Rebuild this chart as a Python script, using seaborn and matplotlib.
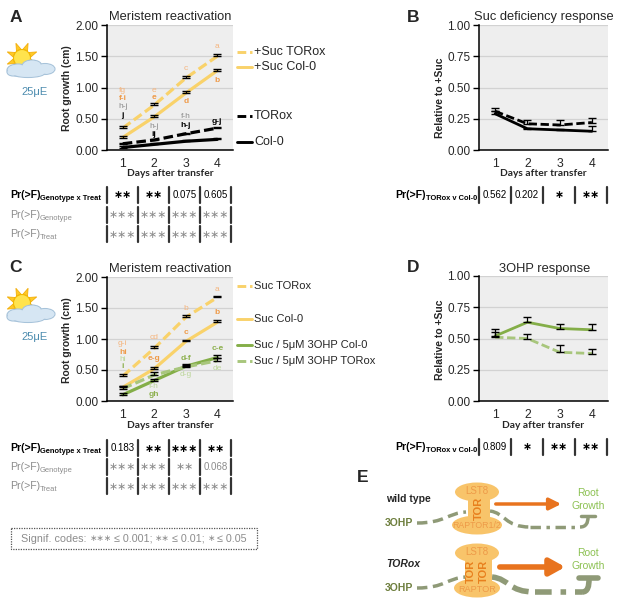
import numpy as np
import pandas as pd
import matplotlib
matplotlib.use('Agg')
import matplotlib.pyplot as plt
import seaborn as sns
from matplotlib.patches import Ellipse, Rectangle, Polygon, PathPatch, FancyArrowPatch
from matplotlib.path import Path

# --- dane ---
days = [1, 2, 3, 4]

# Panel A: przyrost korzenia (cm)
a_suc_torox = [0.35, 0.72, 1.15, 1.50]
a_suc_torox_err = [0.03, 0.03, 0.03, 0.04]
a_suc_col = [0.20, 0.53, 0.91, 1.27]
a_suc_col_err = [0.03, 0.03, 0.03, 0.03]
a_torox = [0.10, 0.16, 0.26, 0.35]
a_torox_err = [0.02, 0.02, 0.02, 0.02]
a_col = [0.04, 0.09, 0.14, 0.17]
a_col_err = [0.03, 0.02, 0.02, 0.02]

# Panel B: wzgledem +Suc
b_col = [0.29, 0.17, 0.16, 0.15]
b_col_err = [0.02, 0.01, 0.01, 0.04]
b_torox = [0.31, 0.21, 0.20, 0.22]
b_torox_err = [0.03, 0.03, 0.04, 0.04]

# Panel C
c_suc_torox = [0.40, 0.85, 1.35, 1.67]
c_suc_torox_err = [0.03, 0.03, 0.03, 0.03]
c_suc_col = [0.22, 0.52, 0.96, 1.27]
c_suc_col_err = [0.03, 0.03, 0.02, 0.03]
c_ohp_col = [0.10, 0.33, 0.56, 0.70]
c_ohp_col_err = [0.03, 0.03, 0.03, 0.04]
c_ohp_torox = [0.20, 0.42, 0.55, 0.65]
c_ohp_torox_err = [0.05, 0.04, 0.03, 0.04]

# Panel D
d_col = [0.52, 0.63, 0.58, 0.57]
d_col_err = [0.06, 0.04, 0.04, 0.05]
d_torox = [0.51, 0.50, 0.39, 0.38]
d_torox_err = [0.04, 0.04, 0.06, 0.04]

# litery istotnosci (dzien, wartosc, tekst, kolor, pogrubienie)
a_letters = [(1, 0.95, 'fg', 'lo', False), (1, 0.83, 'f-i', 'o', True), (1, 0.69, 'h-j', 'g', False), (1, 0.56, 'j', 'k', True),
             (2, 0.96, 'e', 'lo', False), (2, 0.84, 'e', 'o', True), (2, 0.37, 'h-j', 'g', False), (2, 0.25, 'ij', 'k', True),
             (3, 1.31, 'c', 'lo', False), (3, 0.78, 'd', 'o', True), (3, 0.53, 'f-h', 'g', False), (3, 0.40, 'h-j', 'k', True),
             (4, 1.65, 'a', 'lo', False), (4, 1.12, 'b', 'o', True), (4, 0.46, 'g-j', 'k', True)]
c_letters = [(1, 0.92, 'g-i', 'lo', False), (1, 0.79, 'hi', 'o', True), (1, 0.67, 'hi', 'lg', False), (1, 0.55, 'i', 'gr', True),
             (2, 1.02, 'cd', 'lo', False), (2, 0.68, 'e-g', 'o', True), (2, 0.23, 'f-h', 'lg', False), (2, 0.10, 'gh', 'gr', True),
             (3, 1.50, 'b', 'lo', False), (3, 1.11, 'c', 'o', True), (3, 0.69, 'd-f', 'gr', True), (3, 0.42, 'd-g', 'lg', False),
             (4, 1.80, 'a', 'lo', False), (4, 1.42, 'b', 'o', True), (4, 0.84, 'c-e', 'gr', True), (4, 0.53, 'de', 'lg', False)]

a_rows = [['**', '**', '0.075', '0.605'], ['***', '***', '***', '***'], ['***', '***', '***', '***']]
c_rows = [['0.183', '**', '***', '**'], ['***', '***', '**', '0.068'], ['***', '***', '***', '***']]
b_row = ['0.562', '0.202', '*', '**']
d_row = ['0.809', '*', '**', '**']

# --- styl ---
sns.set_style('white')
plt.rcParams['font.family'] = ['Liberation Sans', 'DejaVu Sans']

YEL = '#F9D26A'
LO = '#F5B57E'
OR = '#EE9A48'
GRN = '#84AE48'
LGRN = '#A8C67C'
GRAY = '#8C8C8C'
col_map = {'lo': LO, 'o': OR, 'g': GRAY, 'k': 'black', 'gr': '#8DB04E', 'lg': '#BCD69A'}

W, H = 617, 610
fig = plt.figure(figsize=(W / 100, H / 100), dpi=100)

ov = fig.add_axes([0, 0, 1, 1])
ov.set_xlim(0, W)
ov.set_ylim(H, 0)
ov.axis('off')
rend = fig.canvas.get_renderer()


def ax_px(left, top, right, bottom):
    return fig.add_axes([left / W, 1 - bottom / H, (right - left) / W, (bottom - top) / H])


def style_axis(ax, ymax, step):
    ax.set_facecolor('#EEEEEE')
    ax.set_xlim(0.5, 4.5)
    ax.set_ylim(0, ymax)
    ax.set_yticks(np.arange(0, ymax + 0.001, step))
    ax.set_yticklabels(['%.2f' % v for v in np.arange(0, ymax + 0.001, step)])
    ax.set_xticks(days)
    ax.set_xticks([0.5, 1.5, 2.5, 3.5, 4.5], minor=True)
    ax.tick_params(axis='x', which='major', length=0, pad=6, labelsize=8.8)
    ax.tick_params(axis='x', which='minor', length=4, width=1, direction='out', color='black')
    ax.tick_params(axis='y', length=4, width=1, direction='out', color='black', labelsize=8.5, pad=2, left=True)
    ax.grid(axis='y', color='#D2D2D2', lw=0.9)
    ax.set_axisbelow(True)
    for s in ['top', 'right']:
        ax.spines[s].set_visible(False)
    for s in ['left', 'bottom']:
        ax.spines[s].set_color('black')
        ax.spines[s].set_linewidth(1.1)
    ax.set_xlabel('')
    ax.set_ylabel('')


def series(ax, vals, errs, color, dashed, lw=2.3):
    df = pd.DataFrame({'day': days, 'val': vals})
    ls = (0, (3, 1.3)) if dashed else '-'
    sns.lineplot(data=df, x='day', y='val', ax=ax, color=color, linestyle=ls, lw=lw)
    ax.errorbar(days, vals, yerr=[np.zeros(4), errs], fmt='none', ecolor='black',
                elinewidth=0.9, capsize=2.6, capthick=1.0, zorder=5)


def letters(ax, items):
    for d, v, t, c, b in items:
        ax.text(d, v, t, color=col_map[c], fontsize=6, ha='center', va='center',
                fontweight='bold' if b else 'normal', clip_on=False)


# Panel A
axA = ax_px(107, 25, 233, 150)
series(axA, a_col, a_col_err, 'black', False)
series(axA, a_torox, a_torox_err, 'black', True)
series(axA, a_suc_col, a_suc_col_err, YEL, False)
series(axA, a_suc_torox, a_suc_torox_err, YEL, True)
style_axis(axA, 2.0, 0.5)
letters(axA, a_letters)

# Panel B
axB = ax_px(479, 25, 608, 150)
series(axB, b_col, b_col_err, 'black', False, lw=2)
series(axB, b_torox, b_torox_err, 'black', True, lw=2)
style_axis(axB, 1.0, 0.25)

# Panel C
axC = ax_px(107, 277, 233, 401)
series(axC, c_suc_col, c_suc_col_err, YEL, False)
series(axC, c_suc_torox, c_suc_torox_err, YEL, True)
series(axC, c_ohp_col, c_ohp_col_err, GRN, False)
series(axC, c_ohp_torox, c_ohp_torox_err, LGRN, True)
style_axis(axC, 2.0, 0.5)
letters(axC, c_letters)

# Panel D
axD = ax_px(479, 276, 608, 401)
series(axD, d_col, d_col_err, GRN, False, lw=2)
series(axD, d_torox, d_torox_err, LGRN, True, lw=2)
style_axis(axD, 1.0, 0.25)

# --- teksty nakladki ---
for x, y, t in [(16, 18, 'A'), (413, 18, 'B'), (16, 268, 'C'), (413, 268, 'D'), (363, 478, 'E')]:
    ov.text(x, y, t, fontsize=12.5, fontweight='bold', ha='center', va='center')
for x, y, t in [(170, 17, 'Meristem reactivation'), (544, 17, 'Suc deficiency response'),
                (170, 269, 'Meristem reactivation'), (545, 269, '3OHP response')]:
    ov.text(x, y, t, fontsize=9.3, ha='center', va='center')
for x, y, t in [(67, 88, 'Root growth (cm)'), (67, 340, 'Root growth (cm)'),
                (440, 98, 'Relative to +Suc'), (440, 340, 'Relative to +Suc')]:
    ov.text(x, y, t, fontsize=7.5, fontweight='bold', rotation=90, ha='center', va='center')
for x, y, t in [(170, 174, 'Days after transfer'), (170, 425, 'Days after transfer'),
                (543, 174, 'Days after transfer'), (543, 425, 'Day after transfer')]:
    ov.text(x, y, t, fontsize=7.4, fontweight='bold', ha='center', va='center', family=['Lato', 'DejaVu Sans'])

# legendy
legA = [(52, YEL, True, '+Suc TORox'), (67, YEL, False, '+Suc Col-0'),
        (116, 'black', True, 'TORox'), (142, 'black', False, 'Col-0')]
legC = [(286, YEL, True, 'Suc TORox'), (319, YEL, False, 'Suc Col-0'),
        (345, GRN, False, 'Suc / 5\u03bcM 3OHP Col-0'), (361, LGRN, True, 'Suc / 5\u03bcM 3OHP TORox')]
for leg, fs in [(legA, 9), (legC, 8)]:
    for y, c, dsh, t in leg:
        ov.plot([237, 252], [y, y], color=c, lw=2.1, linestyle=(0, (3, 1.3)) if dsh else '-')
        ov.text(254, y, t, fontsize=fs, ha='left', va='center')


# etykiety z indeksem dolnym
def sublabel(x, y, main, sub, color, bold, ha='left'):
    w = 'bold' if bold else 'normal'
    t1 = ov.text(0, 0, main, fontsize=7.6, fontweight=w, color=color, va='baseline')
    t2 = ov.text(0, 0, sub, fontsize=5.4, fontweight=w, color=color, va='baseline')
    w1 = t1.get_window_extent(rend).width
    w2 = t2.get_window_extent(rend).width
    x0 = x - (w1 + w2) if ha == 'right' else x
    t1.set_position((x0, y + 3))
    t2.set_position((x0 + w1, y + 5))


def stars_or_num(x, y, t, color):
    if '*' in t:
        ov.text(x, y + 0.5, '\u2217' * len(t), fontsize=7.8, ha='center', va='center', color=color,
                family=['DejaVu Sans'], fontweight='bold' if color == 'black' else 'normal')
    else:
        ov.text(x, y, t, fontsize=7, ha='center', va='center', color=color)


def table_row(y, seps, vals, color, bar_color='#333333'):
    for s in seps:
        ov.plot([s, s], [y - 8, y + 8], color=bar_color, lw=1.6)
    for i, v in enumerate(vals):
        stars_or_num((seps[i] + seps[i + 1]) / 2, y, v, color)


sepA = [107, 138, 169, 200, 231]
subs_AC = ['Genotype x Treat', 'Genotype', 'Treat']
for ys, rows in [([195, 215, 234], a_rows), ([448, 467, 486], c_rows)]:
    for i, (y, row) in enumerate(zip(ys, rows)):
        c = 'black' if i == 0 else GRAY
        sublabel(10, y, 'Pr(>F)', subs_AC[i], c, i == 0)
        table_row(y, sepA, row, 'black' if i == 0 else GRAY)

sepB = [479, 511, 543, 575, 607]
for y, row in [(195, b_row), (447, d_row)]:
    sublabel(477, y, 'Pr(>F)', 'TORox v Col-0', 'black', True, ha='right')
    table_row(y, sepB, row, 'black')

# ramka z kodami istotnosci: tekst skladany z kawalkow i dopasowany do 228 px
ov.add_patch(Rectangle((11, 528), 246, 21, fill=False, ec='#555555', lw=0.9, ls=(0, (1, 1))))
runs = [('Signif. codes:', False, 5), ('\u2217\u2217\u2217', True, 3), ('\u2264 0.001;', False, 3),
        ('\u2217\u2217', True, 3), ('\u2264 0.01;', False, 3), ('\u2217', True, 3), ('\u2264 0.05', False, 0)]
pieces = []
for txt, is_star, gap in runs:
    t = ov.text(0, 538.5, txt, fontsize=7.6 if is_star else 9.2, color=GRAY, ha='left', va='center',
                family=['DejaVu Sans'] if is_star else ['Liberation Sans', 'DejaVu Sans'])
    pieces.append([t, t.get_window_extent(rend).width, gap])
total = sum(w + g for _, w, g in pieces)
k = 226 / total
xpos = 134 - 113
for t, w, g in pieces:
    t.set_fontsize(t.get_fontsize() * k)
    t.set_x(xpos)
    xpos += (w + g) * k


# slonce z chmurka
def sun_cloud(dy):
    cx, cy = 22, 58 + dy
    for j in range(8):
        ang = np.pi * 2 * j / 8 + np.pi / 8
        a1, a2 = ang - 0.28, ang + 0.28
        pts = [(cx + 9 * np.cos(a1), cy + 9 * np.sin(a1)), (cx + 16 * np.cos(ang), cy + 16 * np.sin(ang)),
               (cx + 9 * np.cos(a2), cy + 9 * np.sin(a2))]
        ov.add_patch(Polygon(pts, closed=True, fc='#FFC926', ec='#F0A800', lw=0.5))
    ov.add_patch(Ellipse((cx, cy), 17, 17, fc='#FFE34D', ec='#F2B700', lw=0.8))
    cloud = [(18, 70, 22, 12), (32, 66, 20, 12), (45, 69, 20, 11), (28, 73, 34, 9), (13, 72, 12, 8)]
    for x, y, w, h in cloud:
        ov.add_patch(Ellipse((x, y + dy), w, h, fc='#D6E6F3', ec='#A7C3DA', lw=0.8))
    for x, y, w, h in cloud:
        ov.add_patch(Ellipse((x, y + dy), w - 1.6, h - 1.6, fc='#D6E6F3', ec='none'))
    ov.text(35, 92 + dy, '25\u03bcE', color='#4D8CAF', fontsize=8, ha='center', va='center')


sun_cloud(0)
sun_cloud(245)

# --- schemat E ---
TORC = '#F8C46A'
PATHC = '#8F9A77'


def curve(pts, lw, ls):
    codes = [Path.MOVETO] + [Path.CURVE4] * (len(pts) - 1)
    ov.add_patch(PathPatch(Path(pts, codes), fill=False, ec=PATHC, lw=lw, ls=ls, capstyle='butt'))


def complex_(cy_top, cy_bot, x0, x1, wt, wb):
    ov.add_patch(Rectangle((x0, cy_top), x1 - x0, cy_bot - cy_top, fc=TORC, ec='none'))
    ov.add_patch(Ellipse((477, cy_top), wt, 19, fc=TORC, ec='none'))
    ov.add_patch(Ellipse((477, cy_bot), wb, 19, fc=TORC, ec='none'))


# wild type
curve([(417, 523), (445, 523), (448, 513), (466, 512)], 2.5, (0, (3, 1.6)))
curve([(490, 511), (505, 513), (505, 527), (530, 527)], 2.5, (0, (3, 1.6)))
ov.plot([530, 580], [527, 527], color=PATHC, lw=2.5, ls=(0, (3, 1.6, 1, 1.6)))
curve([(580, 527), (586, 527), (588, 523), (588, 517)], 2.5, '-')
ov.plot([581, 595], [516, 516], color=PATHC, lw=2.5)
complex_(492, 525, 468, 490, 44, 50)
ov.text(477, 491, 'LST8', color=OR, fontsize=7, ha='center', va='center')
ov.text(479, 508, 'TOR', color='#E8801E', fontsize=8, fontweight='bold', rotation=90, ha='center', va='center')
ov.text(477, 526, 'RAPTOR1/2', color=OR, fontsize=6.3, ha='center', va='center')
ov.add_patch(FancyArrowPatch((493, 504), (564, 504), arrowstyle='-|>,head_length=7,head_width=3.5',
                             color='#E8731E', lw=2.5, mutation_scale=1))
ov.text(588, 493, 'Root', color='#8CC152', fontsize=7.5, ha='center', va='center')
ov.text(588, 506, 'Growth', color='#8CC152', fontsize=7.5, ha='center', va='center')
ov.text(386, 499, 'wild type', fontsize=7.5, fontweight='bold', ha='left', va='center')
ov.text(385, 523, '3OHP', fontsize=7.5, fontweight='bold', color='#6E7F3E', ha='left', va='center')

# TORox
curve([(417, 588), (445, 588), (447, 578), (466, 577)], 2.5, (0, (3, 1.6)))
curve([(492, 577), (510, 579), (508, 592), (535, 592)], 4, (0, (3, 1.2)))
ov.plot([535, 582], [592, 592], color=PATHC, lw=4, ls=(0, (3, 1.6, 1, 1.6)))
curve([(582, 592), (588, 592), (589, 586), (589, 579)], 4, '-')
ov.plot([579, 598], [578, 578], color=PATHC, lw=4)
complex_(553, 588, 465, 492, 44, 46)
ov.text(477, 552, 'LST8', color=OR, fontsize=7, ha='center', va='center')
ov.text(471, 571, 'TOR', color='#E8801E', fontsize=8, fontweight='bold', rotation=90, ha='center', va='center')
ov.text(484, 571, 'TOR', color='#E8801E', fontsize=8, fontweight='bold', rotation=90, ha='center', va='center')
ov.text(477, 590, 'RAPTOR', color=OR, fontsize=6.6, ha='center', va='center')
ov.add_patch(FancyArrowPatch((497, 567), (568, 567), arrowstyle='-|>,head_length=9,head_width=5',
                             color='#E8731E', lw=4, mutation_scale=1))
ov.text(588, 553, 'Root', color='#8CC152', fontsize=7.5, ha='center', va='center')
ov.text(588, 566, 'Growth', color='#8CC152', fontsize=7.5, ha='center', va='center')
ov.text(386, 564, 'TORox', fontsize=7.5, fontweight='bold', style='italic', ha='left', va='center')
ov.text(385, 588, '3OHP', fontsize=7.5, fontweight='bold', color='#6E7F3E', ha='left', va='center')

fig.savefig('out.png', dpi=100)
